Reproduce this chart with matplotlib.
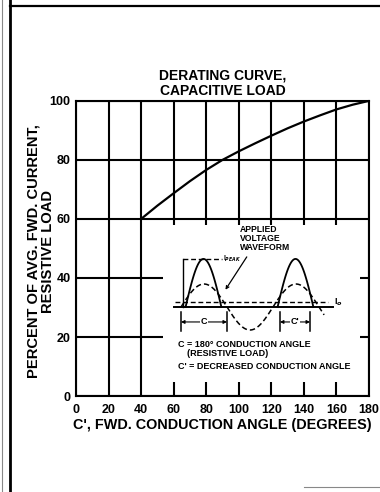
import numpy as np
import matplotlib
matplotlib.use("Agg")
import matplotlib.pyplot as plt
from matplotlib.lines import Line2D

plt.rcParams['font.family'] = ['Liberation Sans', 'DejaVu Sans']
plt.rcParams['font.weight'] = 'bold'

# derating curve
angle = [40, 50, 60, 70, 80, 90, 100, 110, 120, 130, 140, 150, 160, 170, 180]
percent = [60, 64.5, 68.7, 72.8, 76.6, 80, 82.9, 85.6, 88.2, 90.7, 93.0, 95.1, 97.1, 98.7, 100]

x_ticks = [0, 20, 40, 60, 80, 100, 120, 140, 160, 180]
y_ticks = [0, 20, 40, 60, 80, 100]

# schematic in the inset (phase in degrees, amplitude relative to voltage crest)
pulse_spans = [(18, 158), (378, 518)]
i_peak = 2.09
i_avg = 0.22
volt_span = (0, 560)

fig = plt.figure(figsize=(3.8, 4.92), dpi=100)

# page frame
fig.add_artist(Line2D([0.025, 0.025], [0, 1], color='black', lw=2))
fig.add_artist(Line2D([0.025, 1], [0.988, 0.988], color='black', lw=1.6))
fig.add_artist(Line2D([0.004, 0.004], [0, 1], color='#888888', lw=0.8))
fig.add_artist(Line2D([0.80, 1], [0.011, 0.011], color='#888888', lw=0.8))

ax = fig.add_axes([0.2, 0.195, 0.771, 0.6])
ax.plot(angle, percent, color='black', lw=1.6, zorder=5)
ax.set_xlim(0, 180)
ax.set_ylim(0, 100)
ax.set_xticks(x_ticks)
ax.set_yticks(y_ticks)
ax.grid(True, color='black', lw=1.5)
for s in ax.spines.values():
    s.set_linewidth(1.5)
ax.tick_params(length=0, labelsize=9)
ax.tick_params(axis='x', pad=6)
ax.tick_params(axis='y', pad=4)
for lab in ax.get_xticklabels() + ax.get_yticklabels():
    lab.set_fontweight('bold')
ax.set_xlabel("C', FWD. CONDUCTION ANGLE (DEGREES)", fontsize=10.4,
              fontweight='bold', labelpad=1)
ax.set_ylabel("PERCENT OF AVG. FWD. CURRENT,\nRESISTIVE LOAD", fontsize=10.6,
              fontweight='bold', linespacing=1.0)
ax.yaxis.set_label_coords(-0.072, 0.49)
ax.set_title("DERATING CURVE,\nCAPACITIVE LOAD", fontsize=10, fontweight='bold',
             linespacing=1.15, pad=4)

# inset schematic (white box hides the grid)
ins = fig.add_axes([163 / 380, 1 - 382 / 492, 197 / 380, 157 / 492])
ins.set_facecolor('white')
for s in ins.spines.values():
    s.set_visible(False)
ins.set_xticks([])
ins.set_yticks([])
ins.set_xlim(-70.4, 700.4)
ins.set_ylim(-3.26, 3.565)
ins.set_zorder(10)

ph = np.linspace(volt_span[0], volt_span[1], 300)
ins.plot(ph, np.sin(np.radians(ph)), color='black', lw=1.1, ls=(0, (3.5, 2)))
ins.plot([-27, 595], [0, 0], color='black', lw=1.4)
ins.plot([-23, 575], [i_avg, i_avg], color='black', lw=1.0, ls=(0, (3.5, 2)))
ins.text(598, i_avg, 'I$_o$', fontsize=6.5, va='center', ha='left')
for a, b in pulse_spans:
    p = np.linspace(a, b, 80)
    ins.plot(p, i_peak * np.sin(np.pi * (p - a) / (b - a)), color='black', lw=1.3)
ins.plot([8, 160], [i_peak, i_peak], color='black', lw=1.0, ls=(0, (3.5, 2)))
ins.plot([8, 8], [0, i_peak], color='black', lw=1.0)
ins.text(163, i_peak, 'I$_{PEAK}$', fontsize=4.8, va='center', ha='left')

# C and C' dimension markers
for (a, b), lab in [((0, 180), 'C'), ((387, 505), "C'")]:
    for xx in (a, b):
        ins.plot([xx, xx], [-0.2, -1.05], color='black', lw=1.1)
    ins.annotate('', xy=(a, -0.65), xytext=(b, -0.65),
                 arrowprops=dict(arrowstyle='<|-|>', color='black', lw=0.8,
                                 mutation_scale=5, shrinkA=0, shrinkB=0))
    ins.text((a + b) / 2, -0.65, lab, fontsize=6.5, ha='center', va='center',
             bbox=dict(facecolor='white', edgecolor='none', pad=0.5))

ins.annotate('APPLIED\nVOLTAGE\nWAVEFORM', xy=(168, 0.65), xytext=(231, 2.4),
             fontsize=6.2, ha='left', va='bottom', linespacing=1.0,
             arrowprops=dict(arrowstyle='->', color='black', lw=0.9,
                             relpos=(0.2, 0.0), mutation_scale=5))
ins.text(-12, -1.61, 'C = 180\u00b0 CONDUCTION ANGLE', fontsize=6.5, va='center')
ins.text(23, -2.0, '(RESISTIVE LOAD)', fontsize=6.5, va='center')
ins.text(-12, -2.57, "C' = DECREASED CONDUCTION ANGLE", fontsize=6.5, va='center')

fig.savefig('out.png', dpi=100)
